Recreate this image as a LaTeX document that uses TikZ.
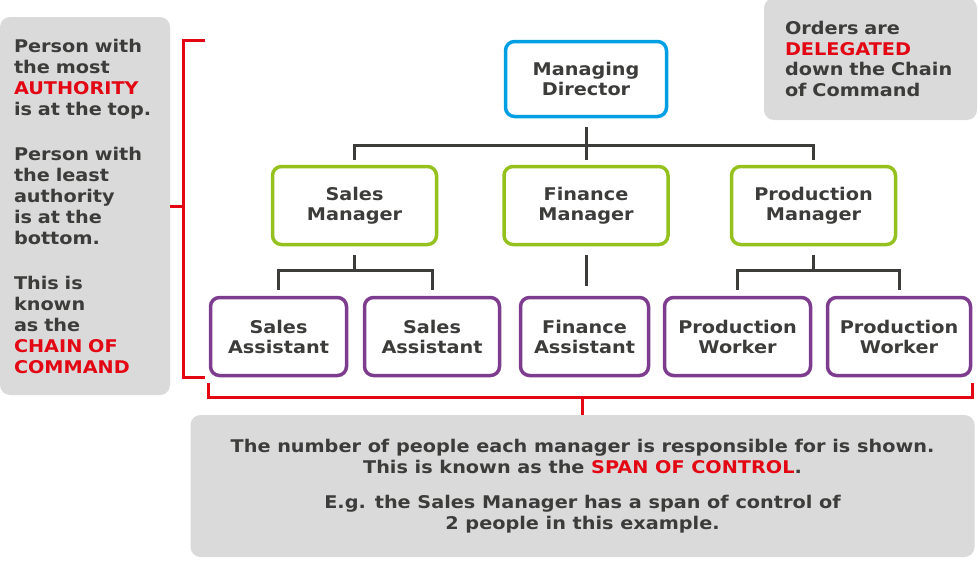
\documentclass[tikz,border=0pt]{standalone}
\usepackage{fontspec}
\setmainfont{DejaVu Sans}[FakeStretch=1.1]

\definecolor{orgblue}{HTML}{009FE3}
\definecolor{orggreen}{HTML}{95C11F}
\definecolor{orgpurple}{HTML}{7D3C8E}
\definecolor{orgred}{HTML}{E30613}
\definecolor{orggrey}{HTML}{DADADA}
\definecolor{orgtext}{HTML}{3C3C3B}

\newcommand{\redword}[1]{{\color{orgred}#1}}

\tikzset{
  orgnode/.style = {align=center, rounded corners=9pt, line width=3.5pt, fill=white,
    text=orgtext, inner sep=0pt, font=\bfseries\fontsize{17.5}{20}\selectfont},
  org_top/.style = {orgnode, draw=orgblue, minimum width=161pt, minimum height=75pt},% directeur
  org_mgr/.style = {orgnode, draw=orggreen, minimum width=164pt, minimum height=78pt},% managers
  org_staff/.style = {orgnode, draw=orgpurple, minimum height=78pt},% assistants, workers
  note/.style = {fill=orggrey, rounded corners=10pt, text=orgtext, inner sep=0pt,
    font=\bfseries\fontsize{17.5}{20.5}\selectfont},% grey text panels
  link/.style = {draw=orgtext, line width=3pt},
  bracket/.style = {draw=orgred, line width=3pt}
}

\begin{document}
\begin{tikzpicture}[x=1pt, y=1pt]
  \useasboundingbox (0,0) rectangle (978,-562);

  % side notes
  \node [note, minimum width=170pt, minimum height=378pt, text width=142pt, align=left,
    font=\bfseries\fontsize{17.5}{21}\selectfont]
    (chainnote) at (85,-206) {Person with\\the most\\\redword{AUTHORITY}\\is at the top.\\[24pt]
      Person with\\the least\\authority\\is at the\\bottom.\\[24pt]
      This is\\known\\as the\\\redword{CHAIN OF}\\\redword{COMMAND}};
  \node [note, minimum width=213pt, minimum height=122pt, text width=171pt, align=left]
    (ordernote) at (870.5,-59) {Orders are\\\redword{DELEGATED}\\down the Chain\\of Command};
  \node [note, minimum width=784pt, minimum height=142pt, align=center]
    (spannote) at (582.5,-486) {The number of people each manager is responsible for is shown.\\
      This is known as the \redword{SPAN OF CONTROL}.\\[15pt]
      E.g. the Sales Manager has a span of control of\\2 people in this example.};

  % the chart
  \node [org_top] (md) at (586,-79) {Managing\\Director};
  \node [org_mgr] (sm) at (354.5,-205.5) {Sales\\Manager};
  \node [org_mgr] (fm) at (586,-205.5) {Finance\\Manager};
  \node [org_mgr] (pm) at (813.5,-205.5) {Production\\Manager};
  \node [org_staff, minimum width=136pt] (sa1) at (278.5,-336.5) {Sales\\Assistant};
  \node [org_staff, minimum width=135pt] (sa2) at (432,-336.5) {Sales\\Assistant};
  \node [org_staff, minimum width=128pt] (fa) at (584.5,-336.5) {Finance\\Assistant};
  \node [org_staff, minimum width=146pt] (pw1) at (737.5,-336.5) {Production\\Worker};
  \node [org_staff, minimum width=143pt] (pw2) at (899,-336.5) {Production\\Worker};

  \coordinate (bar1) at (586,-145);
  \coordinate (bar2) at (354.5,-270);
  \coordinate (bar3) at (813.5,-270);
  \draw [link] ([yshift=-9pt]md.south) -- ([yshift=5pt]fm.north);
  \draw [link] ([yshift=5pt]sm.north) |- (bar1) -| ([yshift=5pt]pm.north);
  \draw [link] ([yshift=-9pt]sm.south) -- (bar2);
  \draw [link] ([yshift=6pt]sa1.north) |- (bar2) -| ([yshift=6pt]sa2.north);
  \draw [link] ([yshift=-9pt]fm.south) -- ([yshift=10pt]fm.south |- fa.north);
  \draw [link] ([yshift=-9pt]pm.south) -- (bar3);
  \draw [link] ([yshift=6pt]pw1.north) |- (bar3) -| ([yshift=6pt]pw2.north);

  % red brackets
  \coordinate (lbtop) at (205,-40);
  \coordinate (lbmid) at (183,-206);
  \coordinate (lbbot) at (205,-377);
  \coordinate (spanmid) at (582.5,-397);
  \draw [bracket] (lbtop) -| (lbmid) |- (lbbot);
  \draw [bracket] (chainnote.east) -- (lbmid);
  \draw [bracket] ([yshift=-6pt]sa1.south west) |- (spanmid) -| ([yshift=-6pt]pw2.south east);
  \draw [bracket] (spanmid) -- (spannote.north);
\end{tikzpicture}
\end{document}
